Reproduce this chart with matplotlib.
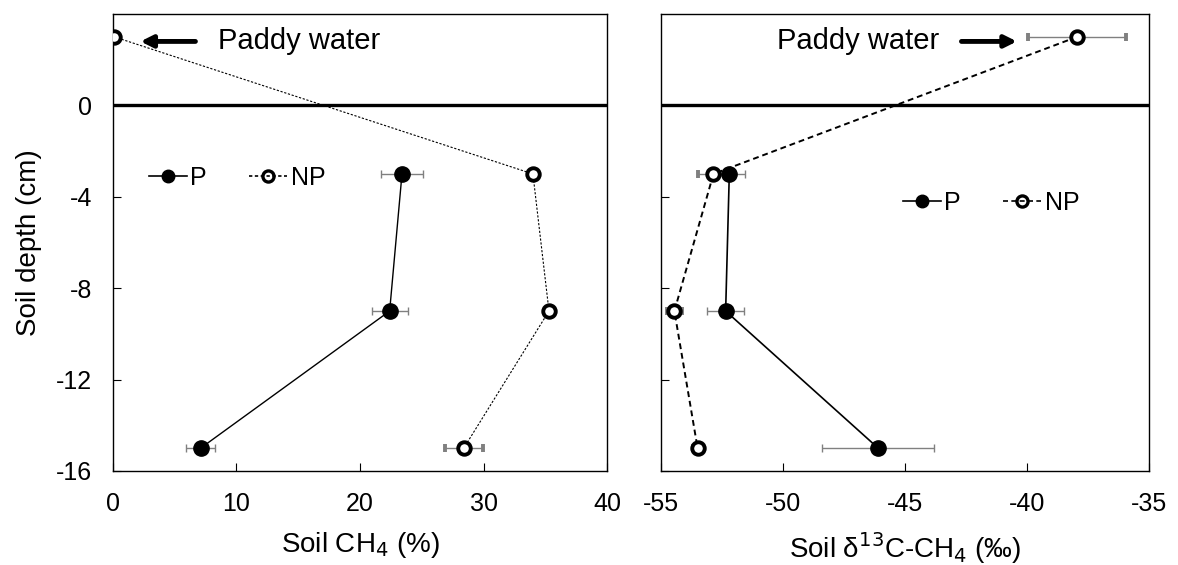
import matplotlib
matplotlib.use('Agg')
import matplotlib.pyplot as plt
from matplotlib.lines import Line2D

plt.rcParams['font.family'] = ['Liberation Sans', 'DejaVu Sans']
plt.rcParams['axes.unicode_minus'] = False

# depths (cm); 3 = paddy water
depth_p = [-3, -9, -15]
depth_np = [3, -3, -9, -15]

# soil CH4 (%)
ch4_p = [23.4, 22.4, 7.1]
ch4_p_err = [1.7, 1.45, 1.2]
ch4_np = [0.1, 34.0, 35.3, 28.4]
ch4_np_err = [0.0, 0.3, 0.3, 1.55]

# soil d13C-CH4 (permil)
d13_p = [-52.2, -52.35, -46.1]
d13_p_err = [0.65, 0.75, 2.3]
d13_np = [-37.95, -52.85, -54.45, -53.5]
d13_np_err = [2.0, 0.65, 0.3, 0.2]

fig = plt.figure(figsize=(11.78, 5.65), dpi=100)
ax1 = fig.add_axes([0.0959, 0.1664, 0.4194, 0.8088])
ax2 = fig.add_axes([0.5611, 0.1664, 0.4143, 0.8088])

ecol = '#808080'
dot_ls = (0, (2, 1.5))
dash_ls = (0, (3, 2))

ax1.axhline(0, color='black', lw=2.4, zorder=1)
ax1.errorbar(ch4_p, depth_p, xerr=ch4_p_err, color='black', lw=1.0,
             marker='o', ms=11, mfc='black', mec='black',
             ecolor=ecol, elinewidth=1.0, capsize=3, zorder=3)
ax1.errorbar(ch4_np, depth_np, xerr=ch4_np_err, color='black', lw=0.8, ls=dot_ls,
             marker='o', ms=9, mfc='white', mec='black', mew=2.8,
             ecolor=ecol, elinewidth=1.0, capsize=3, zorder=3)

ax2.axhline(0, color='black', lw=2.4, zorder=1)
ax2.errorbar(d13_p, depth_p, xerr=d13_p_err, color='black', lw=1.2,
             marker='o', ms=11, mfc='black', mec='black',
             ecolor=ecol, elinewidth=1.0, capsize=3, zorder=3)
ax2.errorbar(d13_np, depth_np, xerr=d13_np_err, color='black', lw=1.4, ls=dash_ls,
             marker='o', ms=9, mfc='white', mec='black', mew=2.8,
             ecolor=ecol, elinewidth=1.0, capsize=3, zorder=3)

for ax in (ax1, ax2):
    ax.set_ylim(-16, 4)
    ax.set_yticks([-16, -12, -8, -4, 0])
    ax.tick_params(direction='in', length=6, labelsize=18, pad=15)
    for s in ax.spines.values():
        s.set_linewidth(1.0)

ax1.set_xlim(0, 40)
ax1.set_xticks([0, 10, 20, 30, 40])
ax2.set_xlim(-55, -35)
ax2.set_xticks([-55, -50, -45, -40, -35])
ax2.tick_params(labelleft=False)

ax1.set_xlabel('Soil CH$_4$ (%)', fontsize=20, labelpad=10)
ax2.set_xlabel('Soil δ$^{13}$C-CH$_4$ (‰)', fontsize=20, labelpad=10)
ax1.set_ylabel('Soil depth (cm)', fontsize=20, labelpad=10)

ax1.annotate('', xy=(2.0, 2.8), xytext=(6.9, 2.8),
             arrowprops=dict(arrowstyle='-|>,head_length=0.7,head_width=0.35',
                             color='black', lw=3.5))
ax1.text(8.5, 2.8, 'Paddy water', fontsize=21, va='center', ha='left')

ax2.text(-50.25, 2.8, 'Paddy water', fontsize=21, va='center', ha='left')
ax2.annotate('', xy=(-40.3, 2.8), xytext=(-42.8, 2.8),
             arrowprops=dict(arrowstyle='-|>,head_length=0.7,head_width=0.35',
                             color='black', lw=3.5))


def legend_handles(np_ls):
    h_p = Line2D([], [], color='black', lw=1.2, marker='o', ms=9,
                 mfc='black', mec='black')
    h_np = Line2D([], [], color='black', lw=1.2, ls=np_ls, marker='o', ms=8,
                  mfc='none', mec='black', mew=2.4)
    return [h_p, h_np]


leg_kw = dict(loc='center left', ncol=2, frameon=False, fontsize=18,
              handlelength=1.5, handletextpad=0.15, columnspacing=1.7,
              borderpad=0, borderaxespad=0)
ax1.legend(legend_handles(dot_ls), ['P', 'NP'], bbox_to_anchor=(0.073, 0.641), **leg_kw)
ax2.legend(legend_handles(dash_ls), ['P', 'NP'], bbox_to_anchor=(0.496, 0.586), **leg_kw)

fig.savefig('out.png', dpi=100)
